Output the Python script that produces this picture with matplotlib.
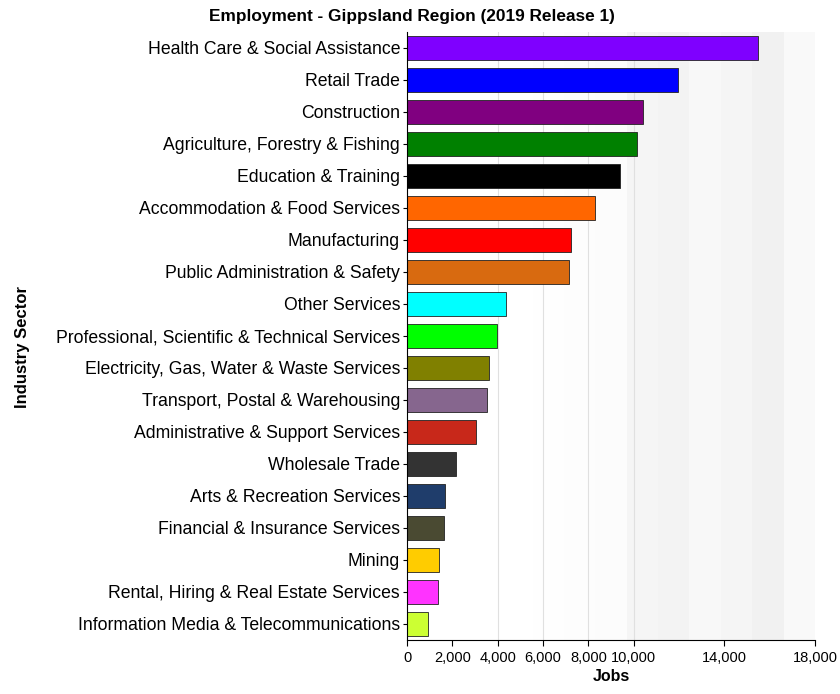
import numpy as np
import matplotlib.pyplot as plt

# industry sectors, top to bottom
sectors = [
    "Health Care & Social Assistance",
    "Retail Trade",
    "Construction",
    "Agriculture, Forestry & Fishing",
    "Education & Training",
    "Accommodation & Food Services",
    "Manufacturing",
    "Public Administration & Safety",
    "Other Services",
    "Professional, Scientific & Technical Services",
    "Electricity, Gas, Water & Waste Services",
    "Transport, Postal & Warehousing",
    "Administrative & Support Services",
    "Wholesale Trade",
    "Arts & Recreation Services",
    "Financial & Insurance Services",
    "Mining",
    "Rental, Hiring & Real Estate Services",
    "Information Media & Telecommunications",
]

jobs = [15500, 11950, 10400, 10150, 9400, 8300, 7250, 7150, 4380,
        3980, 3630, 3540, 3060, 2170, 1690, 1650, 1420, 1380, 940]

colors = ["#7f00ff", "#0000ff", "#800080", "#008000", "#000000",
          "#ff6600", "#ff0000", "#d86a10", "#00ffff", "#00ff00",
          "#808000", "#86668e", "#c8281a", "#333333", "#1f3d6b",
          "#4a4a32", "#ffcc00", "#ff33ff", "#ccff33"]

xticks = [0, 2000, 4000, 6000, 8000, 10000, 14000, 18000]

plt.rcParams['font.family'] = ['Liberation Sans', 'DejaVu Sans']

fig = plt.figure(figsize=(8.4, 6.94), dpi=100)
ax = fig.add_axes([407 / 840, 54 / 694, 408 / 840, 608 / 694])

# faint grey banding in the background
shade = np.array([[1.0, 1.0, 1.0, 1.0, 0.995, 0.99, 0.985, 0.96, 0.95,
                   0.97, 0.96, 0.945, 0.975]])
ax.imshow(shade, cmap="gray", vmin=0, vmax=1, aspect="auto",
          extent=(0, 18000, len(sectors) - 0.5, -0.5), zorder=0)
for g in [4000, 6000, 8000, 10000]:
    ax.axvline(g, color="#e0e0e0", lw=0.8, zorder=1)

y = np.arange(len(sectors))
ax.barh(y, jobs, height=0.75, color=colors, edgecolor="#222222",
        linewidth=0.6, zorder=2)

ax.set_xlim(0, 18000)
ax.set_ylim(len(sectors) - 0.5, -0.5)
ax.set_yticks(y)
ax.set_yticklabels(sectors, fontsize=12.7)
ax.set_xticks(xticks)
ax.set_xticklabels(["{:,}".format(v) for v in xticks], fontsize=10.5)
ax.tick_params(axis="y", length=3, pad=2)
ax.tick_params(axis="x", length=4, pad=4)

for s in ["top", "right"]:
    ax.spines[s].set_visible(False)

ax.set_xlabel("Jobs", fontsize=11.5, fontweight="bold", labelpad=3)
fig.text(0.027, 0.5, "Industry Sector", rotation=90, fontsize=12,
         fontweight="bold", ha="center", va="center")
fig.text(412 / 840, 1 - 17 / 694, "Employment - Gippsland Region (2019 Release 1)",
         fontsize=12.4, fontweight="bold", ha="center", va="center")

fig.savefig("out.png", dpi=100)
